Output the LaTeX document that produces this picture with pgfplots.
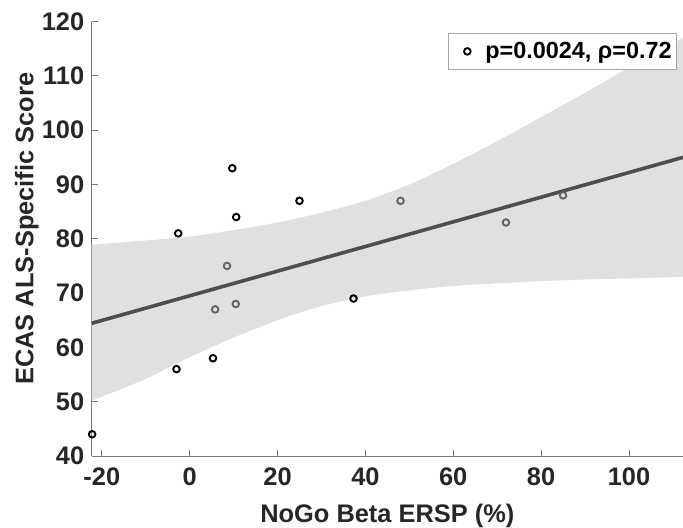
\documentclass[border=0pt]{standalone}
\usepackage{fontspec}
\setmainfont{Liberation Sans}
\usepackage{pgfplots}
\pgfplotsset{compat=1.18}
\usepgfplotslibrary{fillbetween}
\definecolor{bandgray}{RGB}{224,224,224}
\definecolor{fitgray}{RGB}{78,78,78}
\definecolor{ptgray}{RGB}{100,100,100}
\definecolor{axgray}{RGB}{120,120,120}
\definecolor{txt}{RGB}{38,38,38}

\begin{document}
\begin{tikzpicture}
\begin{axis}[
    scale only axis,
    width=591.3bp, height=434.4bp,
    xmin=-22.3, xmax=112.3, ymin=40, ymax=120,
    axis lines*=left,
    axis line style={axgray, line width=0.9bp},
    tick style={axgray, line width=0.9bp},
    tick align=inside,
    major tick length=6bp,
    xtick={-20,0,...,100},
    ytick={40,50,...,120},
    /pgf/number format/assume math mode=true,
    ticklabel style={font=\fontsize{25.5}{30}\selectfont\bfseries, text=txt},
    xticklabel style={yshift=-8bp},
    yticklabel style={xshift=-4bp},
    xlabel={NoGo Beta ERSP (\%)},
    ylabel={ECAS ALS-Specific Score},
    label style={font=\fontsize{25.5}{30}\selectfont\bfseries, text=txt},
    xlabel style={at={(axis description cs:0.5,0)}, anchor=base, yshift=-66bp},
    ylabel style={at={(axis description cs:0,0.5)}, anchor=center, yshift=65bp, xshift=10bp},
    legend style={at={(1,1)}, anchor=north east, xshift=-6bp, yshift=-11bp,
        draw=gray!70, line width=0.8bp, fill=white,
        font=\fontsize{23.5}{28}\selectfont\bfseries, text=black,
        inner xsep=3bp, inner ysep=7.5bp},
    legend image code/.code={%
        \path (0bp,0bp) (30bp,0bp);
        \draw[mark repeat=2, mark phase=2, #1] plot coordinates {(0bp,0bp) (15bp,0bp) (30bp,0bp)};},
]
% confidence band
\addplot[name path=up, draw=none, smooth, forget plot] coordinates {
    (-22.3,78.9) (-10,79.7) (0,80.4) (10,81.6) (20,83.0) (30,84.8) (40,87.0)
    (50,90.0) (60,93.8) (70,98.0) (80,102.4) (90,106.9) (100,111.5) (112.3,117.0)};
\addplot[name path=lo, draw=none, smooth, forget plot] coordinates {
    (-22.3,50.2) (-10,54.2) (0,58.2) (10,61.8) (20,65.0) (30,67.6) (40,69.4)
    (50,70.5) (60,71.3) (70,71.8) (80,72.2) (90,72.5) (100,72.7) (112.3,73.0)};
\addplot[bandgray, forget plot] fill between[of=up and lo];

% observations
\addplot[only marks, mark=o, mark size=3.3bp, line width=1.9bp, black] coordinates {
    (-22.2,44) (-3,56) (-2.6,81) (5.3,58) (9.7,93) (10.6,84) (25,87) (37.3,69)};
\addlegendentry{p=0.0024, ρ=0.72}
\addplot[only marks, mark=o, mark size=3.3bp, line width=1.9bp, ptgray, forget plot] coordinates {
    (5.8,67) (8.5,75) (10.5,68) (48,87) (72,83) (85,88)};

% fit line
\addplot[fitgray, line width=3.6bp, forget plot] coordinates {(-22.3,64.44) (112.3,95.0)};
\end{axis}
\pgfresetboundingbox
\path[use as bounding box] (-91.7bp,-72bp) rectangle (591.3bp,456bp);
\end{tikzpicture}
\end{document}
